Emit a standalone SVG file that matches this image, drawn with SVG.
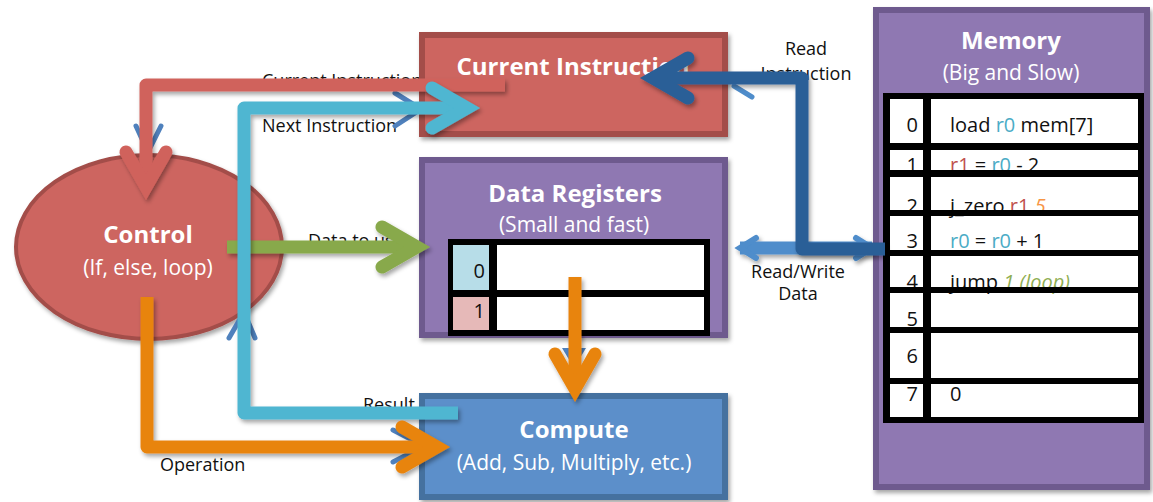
<svg xmlns="http://www.w3.org/2000/svg" width="1153" height="502" viewBox="0 0 1153 502">
  <defs>
    <style>
      .lbl { font-family: "Open Sans", "Liberation Sans", sans-serif; font-size: 18px; fill: #111; }
      .title { font-family: "Open Sans", "Liberation Sans", sans-serif; font-size: 24px; font-weight: bold; fill: #fff; text-anchor: middle; }
      .sub { font-family: "Open Sans", "Liberation Sans", sans-serif; font-size: 21px; fill: #fff; text-anchor: middle; }
      .cell { font-family: "Open Sans", "Liberation Sans", sans-serif; font-size: 20px; fill: #111; }
      .idx { text-anchor: end; }
      .red-box { fill: #cd6560; stroke: #a34e4a; stroke-width: 6; }
      .purple-box { fill: #8f78b2; stroke: #6e5a8e; stroke-width: 6; }
      .blue-box { fill: #5b8fca; stroke: #44719f; stroke-width: 6; }
      .wire { fill: none; stroke-width: 13; stroke-linejoin: round; stroke-linecap: butt; }
      .ghost { fill: none; stroke: #4f81bd; stroke-width: 5; stroke-linecap: round; }
      .ghost-sky { stroke: #4f8dcb; }
      .r0 { fill: #4bacc6; }
      .r1 { fill: #c0504d; }
      .k5 { fill: #f79646; font-style: italic; }
      .loop { fill: #8fae52; font-style: italic; }
    </style>
    <!-- user-space region so that straight horizontal/vertical wires keep their shadow -->
    <filter id="shadow" filterUnits="userSpaceOnUse" x="0" y="0" width="1153" height="502">
      <feDropShadow dx="2" dy="3" stdDeviation="2" flood-color="#000" flood-opacity="0.35"/>
    </filter>
    <marker id="head-red" markerUnits="userSpaceOnUse" viewBox="-50 -40 70 80" markerWidth="70" markerHeight="80" refX="0" refY="0" orient="auto" overflow="visible">
      <path d="M -35 -20 L 0 0 L -35 20" fill="none" stroke="#d0625c" stroke-width="13" stroke-linecap="round" stroke-linejoin="miter"/>
    </marker>
    <marker id="head-cyan" markerUnits="userSpaceOnUse" viewBox="-50 -40 70 80" markerWidth="70" markerHeight="80" refX="0" refY="0" orient="auto" overflow="visible">
      <path d="M -35 -20 L 0 0 L -35 20" fill="none" stroke="#4fb6d1" stroke-width="13" stroke-linecap="round" stroke-linejoin="miter"/>
    </marker>
    <marker id="head-navy" markerUnits="userSpaceOnUse" viewBox="-50 -40 70 80" markerWidth="70" markerHeight="80" refX="0" refY="0" orient="auto" overflow="visible">
      <path d="M -35 -20 L 0 0 L -35 20" fill="none" stroke="#2a5f97" stroke-width="13" stroke-linecap="round" stroke-linejoin="miter"/>
    </marker>
    <marker id="head-green" markerUnits="userSpaceOnUse" viewBox="-50 -40 70 80" markerWidth="70" markerHeight="80" refX="0" refY="0" orient="auto" overflow="visible">
      <path d="M -35 -20 L 0 0 L -35 20" fill="none" stroke="#88a94b" stroke-width="13" stroke-linecap="round" stroke-linejoin="miter"/>
    </marker>
    <marker id="head-orange" markerUnits="userSpaceOnUse" viewBox="-50 -40 70 80" markerWidth="70" markerHeight="80" refX="0" refY="0" orient="auto" overflow="visible">
      <path d="M -35 -20 L 0 0 L -35 20" fill="none" stroke="#e8840f" stroke-width="13" stroke-linecap="round" stroke-linejoin="miter"/>
    </marker>
    <marker id="head-sky" markerUnits="userSpaceOnUse" viewBox="-30 -20 40 40" markerWidth="40" markerHeight="40" refX="0" refY="0" orient="auto-start-reverse" overflow="visible">
      <path d="M -16 -10 L 0 0 L -16 10" fill="none" stroke="#4f8dcb" stroke-width="6" stroke-linecap="round" stroke-linejoin="miter"/>
    </marker>
  </defs>

  <rect width="1153" height="502" fill="#fff"/>

  <!-- connector labels (sit beneath the arrows) -->
  <g id="labels">
    <text class="lbl" x="262" y="87">Current Instruction</text>
    <text class="lbl" x="262" y="132">Next Instruction</text>
    <text class="lbl" x="308" y="247">Data to use</text>
    <text class="lbl" x="363" y="411">Result</text>
    <text class="lbl" x="160" y="471">Operation</text>
    <text class="lbl" x="806" y="55" text-anchor="middle">Read</text>
    <text class="lbl" x="806" y="80" text-anchor="middle">Instruction</text>
    <text class="lbl" x="798" y="278" text-anchor="middle">Read/Write</text>
    <text class="lbl" x="798" y="300" text-anchor="middle">Data</text>
  </g>

  <!-- Current Instruction register -->
  <g id="current-instruction">
    <rect class="red-box" x="422" y="35" width="303" height="99" filter="url(#shadow)"/>
    <text class="title" x="573" y="75">Current Instruction</text>
  </g>

  <!-- Data registers -->
  <g id="data-registers">
    <rect class="purple-box" x="422" y="160" width="303" height="175" filter="url(#shadow)"/>
    <text class="title" x="575" y="202">Data Registers</text>
    <text class="sub" x="574" y="232">(Small and fast)</text>
    <rect x="448" y="239" width="262" height="97" fill="#000"/>
    <rect x="453" y="245" width="36" height="45" fill="#b7dde8"/>
    <rect x="497" y="245" width="207" height="45" fill="#fff"/>
    <rect x="453" y="297" width="36" height="33" fill="#e6b9b8"/>
    <rect x="497" y="297" width="207" height="33" fill="#fff"/>
    <text class="cell idx" x="485" y="278">0</text>
    <text class="cell idx" x="485" y="318">1</text>
  </g>

  <!-- Compute unit -->
  <g id="compute">
    <rect class="blue-box" x="422" y="396" width="303" height="101" filter="url(#shadow)"/>
    <text class="title" x="574" y="438">Compute</text>
    <text class="sub" x="574" y="470">(Add, Sub, Multiply, etc.)</text>
  </g>

  <!-- Control unit -->
  <g id="control">
    <ellipse cx="149" cy="247" rx="133" ry="92" fill="#cd6560" stroke="#a34e4a" stroke-width="4" filter="url(#shadow)"/>
    <text class="title" x="148" y="243">Control</text>
    <text class="sub" x="148" y="275">(If, else, loop)</text>
  </g>

  <!-- Memory with its program -->
  <g id="memory">
    <rect class="purple-box" x="876" y="10" width="271" height="477" filter="url(#shadow)"/>
    <text class="title" x="1011" y="49">Memory</text>
    <text class="sub" x="1011" y="80">(Big and Slow)</text>
    <rect x="883" y="93" width="261" height="330" fill="#000"/>
    <g fill="#fff">
      <rect x="890" y="99" width="33" height="44"/><rect x="931" y="99" width="207" height="44"/>
      <rect x="890" y="150" width="33" height="20"/><rect x="931" y="150" width="207" height="20"/>
      <rect x="890" y="177" width="33" height="33"/><rect x="931" y="177" width="207" height="33"/>
      <rect x="890" y="216" width="33" height="34"/><rect x="931" y="216" width="207" height="34"/>
      <rect x="890" y="256" width="33" height="31"/><rect x="931" y="256" width="207" height="31"/>
      <rect x="890" y="293" width="33" height="34"/><rect x="931" y="293" width="207" height="34"/>
      <rect x="890" y="333" width="33" height="45"/><rect x="931" y="333" width="207" height="45"/>
      <rect x="890" y="384" width="33" height="33"/><rect x="931" y="384" width="207" height="33"/>
    </g>
    <text class="cell idx" x="918" y="132">0</text>
    <text class="cell idx" x="918" y="172">1</text>
    <text class="cell idx" x="918" y="213">2</text>
    <text class="cell idx" x="918" y="248">3</text>
    <text class="cell idx" x="918" y="289">4</text>
    <text class="cell idx" x="918" y="326">5</text>
    <text class="cell idx" x="918" y="363">6</text>
    <text class="cell idx" x="918" y="401">7</text>
    <text class="cell" x="950" y="132">load <tspan class="r0">r0</tspan> mem[7]</text>
    <text class="cell" x="950" y="172"><tspan class="r1">r1</tspan> = <tspan class="r0">r0</tspan> - 2</text>
    <text class="cell" x="950" y="213">j_zero <tspan class="r1">r1</tspan> <tspan class="k5">5</tspan></text>
    <text class="cell" x="950" y="248"><tspan class="r0">r0</tspan> = <tspan class="r0">r0</tspan> + 1</text>
    <text class="cell" x="950" y="289">jump <tspan class="loop">1 (loop)</tspan></text>
    <text class="cell" x="950" y="401">0</text>
    <!-- row rules drawn over the cell text -->
    <g fill="#000">
      <rect x="883" y="143" width="261" height="7"/>
      <rect x="883" y="170" width="261" height="7"/>
      <rect x="883" y="210" width="261" height="6"/>
      <rect x="883" y="250" width="261" height="6"/>
      <rect x="883" y="287" width="261" height="6"/>
      <rect x="883" y="327" width="261" height="6"/>
      <rect x="883" y="378" width="261" height="6"/>
      <rect x="883" y="417" width="261" height="6"/>
    </g>
  </g>

  <!-- connectors -->
  <g id="connectors">
    <!-- thin blue arrows lying underneath the coloured ones -->
    <polyline class="ghost" points="136,126 148,152 161,126"/>
    <polyline class="ghost" points="395,93 421,109 395,126"/>
    <line class="ghost ghost-sky" x1="734" y1="86" x2="752" y2="97"/>
    <polyline class="ghost" points="229,338 244,312 255,338"/>
    <polyline class="ghost" points="393,430 424,446 393,462"/>
    <polygon points="562,348 586,348 574,368" fill="#4f81bd"/>

    <path class="wire" d="M 740 248 H 872" stroke="#4f8dcb" stroke-width="7" marker-start="url(#head-sky)" marker-end="url(#head-sky)" filter="url(#shadow)"/>
    <path class="wire" d="M 505 85 H 146 V 187" stroke="#d0625c" marker-end="url(#head-red)" filter="url(#shadow)"/>
    <path class="wire" d="M 227 247 H 417" stroke="#88a94b" marker-end="url(#head-green)" filter="url(#shadow)"/>
    <path class="wire" d="M 458 413 H 244 V 108 H 467" stroke="#4fb6d1" marker-end="url(#head-cyan)" filter="url(#shadow)"/>
    <path class="wire" d="M 147 297 V 447 H 437" stroke="#e8840f" marker-end="url(#head-orange)" filter="url(#shadow)"/>
    <path class="wire" d="M 575 277 V 389" stroke="#e8840f" marker-end="url(#head-orange)" filter="url(#shadow)"/>
    <path class="wire" d="M 885 249 H 802 V 78 H 653" stroke="#2a5f97" stroke-width="14" marker-end="url(#head-navy)" filter="url(#shadow)"/>
  </g>
</svg>
